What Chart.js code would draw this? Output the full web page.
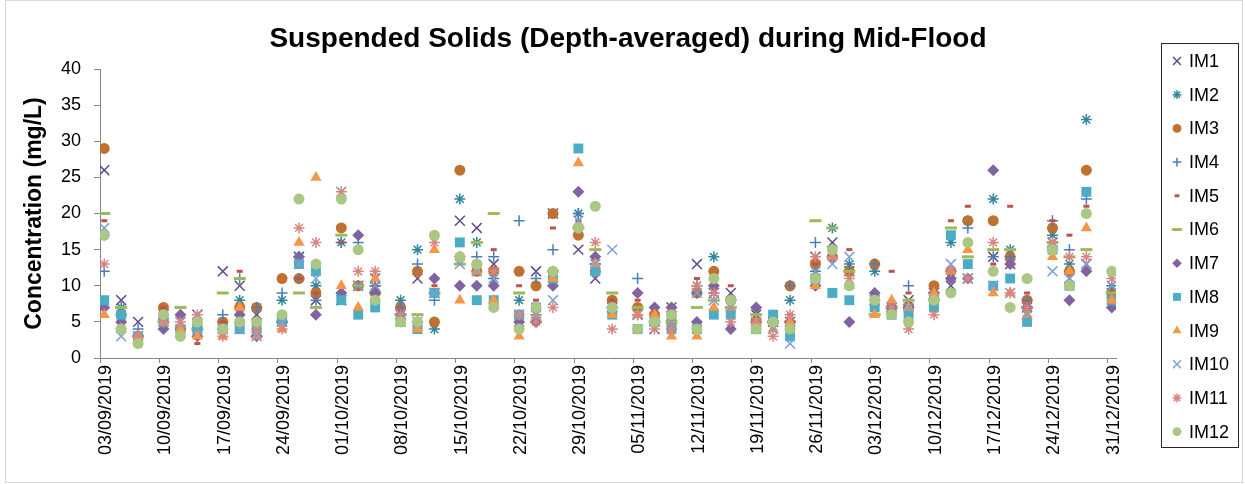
<!DOCTYPE html>
<html lang="en">
<head>
    <meta charset="UTF-8">
    <title>Suspended Solids (Depth-averaged) during Mid-Flood</title>
    <script src="https://cdn.jsdelivr.net/npm/chart.js"></script>
    <style>
        body { margin: 0; background: #fff; }
        #wrap { width: 1245px; height: 484px; }
    </style>
</head>
<body>
    <div id="wrap"><canvas id="myChart" width="1245" height="484"></canvas></div>

    <script>
        // sampling days (mid-flood, taken around midday)
        const sampleDates = [
            '03/09/2019', '05/09/2019', '07/09/2019', '10/09/2019', '12/09/2019', '14/09/2019',
            '17/09/2019', '19/09/2019', '21/09/2019', '24/09/2019', '26/09/2019', '28/09/2019',
            '01/10/2019', '03/10/2019', '05/10/2019', '08/10/2019', '10/10/2019', '12/10/2019',
            '15/10/2019', '17/10/2019', '19/10/2019', '22/10/2019', '24/10/2019', '26/10/2019',
            '29/10/2019', '31/10/2019', '02/11/2019', '05/11/2019', '07/11/2019', '09/11/2019',
            '12/11/2019', '14/11/2019', '16/11/2019', '19/11/2019', '21/11/2019', '23/11/2019',
            '26/11/2019', '28/11/2019', '30/11/2019', '03/12/2019', '05/12/2019', '07/12/2019',
            '10/12/2019', '12/12/2019', '14/12/2019', '17/12/2019', '19/12/2019', '21/12/2019',
            '24/12/2019', '26/12/2019', '28/12/2019', '31/12/2019'
        ];
        const sampleHour = 12;

        const axisStart = '03/09/2019';
        const axisEnd = '01/01/2020';
        const tickDays = 7;

        const chartTitle = 'Suspended Solids (Depth-averaged) during Mid-Flood';
        const yTitle = 'Concentration (mg/L)';
        const seriesNames = ['IM1', 'IM2', 'IM3', 'IM4', 'IM5', 'IM6', 'IM7', 'IM8', 'IM9', 'IM10', 'IM11', 'IM12'];

        // concentration, mg/L
        const im1 = [26, 8, 5, 6, 5, 6, 12, 10, 6, 5, 14, 8, 8, 10, 11, 6, 11, 9, 19, 18, 13, 5, 12, 20, 15, 11, 7, 6, 4, 7, 13, 9, 9, 6, 5, 5, 14, 16, 12, 8, 7, 8, 9, 10, 11, 14, 13, 7, 16, 11, 13, 9];
        const im2 = [17, 7, 3, 6, 4, 4, 5, 8, 7, 8, 14, 10, 16, 10, 10, 8, 15, 4, 22, 16, 11, 8, 6, 12, 20, 13, 7, 6, 5, 5, 10, 14, 8, 5, 5, 8, 12, 18, 13, 12, 7, 7, 8, 16, 19, 22, 15, 7, 17, 13, 33, 10];
        const im3 = [29, 6, 3, 7, 4, 4, 5, 7, 7, 11, 11, 9, 18, 10, 9, 7, 12, 5, 26, 12, 12, 12, 10, 20, 17, 12, 8, 7, 6, 5, 9, 12, 8, 5, 5, 10, 13, 14, 12, 13, 7, 7, 10, 12, 19, 19, 14, 8, 18, 12, 26, 9];
        const im4 = [12, 6, 4, 6, 4, 4, 6, 11, 7, 9, 11, 8, 16, 16, 10, 7, 13, 8, 14, 14, 14, 19, 11, 15, 20, 13, 7, 11, 5, 5, 9, 9, 8, 5, 5, 10, 16, 14, 12, 13, 7, 10, 9, 12, 18, 14, 14, 8, 19, 15, 22, 9];
        const im5 = [19, 5, 3, 7, 4, 2, 5, 12, 4, 5, 11, 9, 16, 10, 10, 6, 5, 10, 13, 13, 15, 10, 8, 18, 19, 12, 8, 8, 5, 5, 11, 9, 10, 5, 5, 6, 13, 14, 15, 8, 12, 9, 8, 19, 21, 13, 21, 9, 19, 17, 21, 9];
        const im6 = [20, 7, 3, 5, 7, 4, 9, 11, 3, 5, 9, 7, 17, 10, 9, 6, 6, 9, 13, 16, 20, 9, 5, 12, 18, 15, 9, 7, 5, 5, 7, 8, 7, 6, 5, 5, 19, 18, 12, 6, 7, 8, 8, 18, 14, 15, 15, 7, 16, 14, 15, 9];
        const im7 = [7, 5, 3, 4, 6, 3, 4, 6, 3, 5, 14, 6, 9, 17, 9, 6, 5, 11, 10, 10, 10, 5, 5, 10, 23, 14, 7, 9, 7, 7, 5, 10, 4, 7, 5, 5, 10, 14, 5, 9, 7, 7, 9, 11, 11, 26, 13, 7, 15, 8, 12, 7];
        const im8 = [8, 6, 3, 5, 4, 4, 4, 4, 4, 5, 13, 12, 8, 6, 7, 5, 4, 9, 16, 8, 8, 6, 7, 11, 29, 12, 6, 4, 5, 4, 4, 6, 6, 4, 6, 3, 11, 9, 8, 7, 6, 6, 7, 17, 13, 10, 11, 5, 15, 10, 23, 8];
        const im9 = [6, 4, 3, 5, 4, 3, 3, 7, 3, 4, 16, 25, 10, 7, 11, 5, 4, 15, 8, 12, 8, 3, 6, 11, 27, 13, 6, 6, 6, 3, 3, 7, 7, 5, 4, 5, 10, 14, 10, 6, 8, 7, 9, 12, 15, 9, 9, 6, 14, 12, 18, 8];
        const im10 = [18, 3, 3, 5, 5, 4, 4, 4, 3, 5, 13, 11, 23, 10, 10, 6, 5, 9, 13, 12, 11, 6, 6, 8, 19, 13, 15, 6, 5, 5, 9, 8, 7, 5, 4, 2, 12, 13, 14, 8, 7, 7, 8, 13, 11, 10, 9, 6, 12, 11, 13, 10];
        const im11 = [13, 4, 3, 5, 5, 6, 3, 5, 4, 4, 18, 16, 23, 12, 12, 6, 5, 16, 14, 13, 12, 6, 5, 7, 18, 16, 4, 6, 4, 4, 10, 9, 5, 5, 3, 6, 14, 14, 11, 8, 7, 4, 6, 12, 11, 16, 9, 7, 16, 14, 14, 11];
        const im12 = [17, 4, 2, 6, 3, 5, 4, 5, 5, 6, 22, 13, 22, 15, 8, 5, 5, 17, 14, 13, 7, 4, 7, 12, 18, 21, 7, 4, 5, 6, 4, 11, 8, 4, 5, 4, 11, 15, 10, 8, 6, 5, 8, 9, 16, 12, 7, 11, 15, 10, 20, 12];
        const seriesValues = [im1, im2, im3, im4, im5, im6, im7, im8, im9, im10, im11, im12];

        const yTicks = [0, 5, 10, 15, 20, 25, 30, 35, 40];

        // marker look for each series, same order as seriesNames
        const markers = [
            { style: 'crossRot', radius: 7, color: '#5F4B8B', width: 1.5 },
            { style: 'star', radius: 5.5, color: '#31859C', width: 1.5 },
            { style: 'circle', radius: 5.5, color: '#C1712F', width: 0 },
            { style: 'cross', radius: 5.5, color: '#4A7EBB', width: 1.5 },
            { style: 'line', radius: 3, color: '#C0504D', width: 3 },
            { style: 'line', radius: 6, color: '#9BBB59', width: 3 },
            { style: 'rectRot', radius: 6, color: '#8064A2', width: 0 },
            { style: 'rect', radius: 7, color: '#4BACC6', width: 0 },
            { style: 'triangle', radius: 6.5, color: '#F79646', width: 0 },
            { style: 'crossRot', radius: 7, color: '#7F9FD3', width: 1.5 },
            { style: 'star', radius: 5.5, color: '#D9857F', width: 1.5 },
            { style: 'circle', radius: 5.5, color: '#ABC784', width: 0 }
        ];

        const DAY = 86400000;
        function parseDate(s) {
            const p = s.split('/');
            return Date.UTC(+p[2], +p[1] - 1, +p[0]);
        }
        function pad(n) { return n < 10 ? '0' + n : '' + n; }
        const t0 = parseDate(axisStart);
        const xMax = (parseDate(axisEnd) - t0) / DAY;
        const xs = sampleDates.map(d => (parseDate(d) - t0) / DAY + sampleHour / 24);

        const datasets = seriesNames.map((name, i) => {
            const m = markers[i];
            const filled = m.width === 0;
            return {
                label: name,
                data: seriesValues[i].map((v, k) => ({ x: xs[k], y: v })),
                pointStyle: m.style,
                pointRadius: m.radius,
                pointHoverRadius: m.radius,
                backgroundColor: m.color,
                borderColor: m.color,
                borderWidth: filled ? 0 : m.width,
                showLine: false,
                order: seriesNames.length - i
            };
        });

        const font = '"Liberation Sans", Arial, sans-serif';
        const axisColor = '#868686';

        // title + framed legend, placed the way excel put them
        const boxLegend = {
            id: 'boxLegend',
            afterDraw(chart) {
                const ctx = chart.ctx;
                ctx.save();
                ctx.fillStyle = '#000';
                ctx.textAlign = 'center';
                ctx.textBaseline = 'middle';
                ctx.font = 'bold 28px ' + font;
                ctx.fillText(chartTitle, 628, 39);

                const bx = 1161, by = 43, bw = 77, bh = 404;
                ctx.strokeStyle = '#262626';
                ctx.lineWidth = 1;
                ctx.strokeRect(bx + 0.5, by + 0.5, bw, bh);
                ctx.font = '18px ' + font;
                ctx.textAlign = 'left';
                seriesNames.forEach((name, i) => {
                    const m = markers[i];
                    const y = 61 + i * 33.7;
                    ctx.fillStyle = m.color;
                    ctx.strokeStyle = m.color;
                    ctx.lineWidth = m.width === 0 ? 1 : m.width;
                    Chart.helpers.drawPoint(ctx, {
                        pointStyle: m.style,
                        radius: m.radius * 0.8,
                        rotation: 0,
                        borderWidth: m.width
                    }, 1177, y);
                    ctx.fillStyle = '#000';
                    ctx.fillText(name, 1189, y + 1);
                });
                ctx.restore();
            }
        };

        const chartFrame = {
            id: 'chartFrame',
            beforeDraw(chart) {
                const ctx = chart.ctx;
                ctx.save();
                ctx.fillStyle = '#fff';
                ctx.fillRect(0, 0, chart.width, chart.height);
                ctx.strokeStyle = '#D9D9D9';
                ctx.lineWidth = 1;
                ctx.strokeRect(5.5, 0.5, 1237, 482);
                ctx.restore();
            }
        };

        new Chart(document.getElementById('myChart').getContext('2d'), {
            type: 'scatter',
            data: { datasets: datasets },
            options: {
                responsive: false,
                animation: false,
                layout: { padding: { left: 10, right: 129, top: 69, bottom: 0 } },
                plugins: {
                    legend: { display: false },
                    tooltip: { enabled: false },
                    title: { display: false }
                },
                scales: {
                    x: {
                        type: 'linear',
                        min: 0,
                        max: xMax,
                        afterFit(scale) { scale.height = 126; },
                        border: { color: axisColor, width: 1 },
                        grid: { drawOnChartArea: false, drawTicks: true, tickLength: 5, color: axisColor },
                        ticks: {
                            stepSize: tickDays,
                            includeBounds: false,
                            autoSkip: false,
                            minRotation: 90,
                            maxRotation: 90,
                            labelOffset: 6,
                            padding: 2,
                            color: '#000',
                            font: { family: font, size: 18 },
                            callback: (v) => {
                                const d = new Date(t0 + v * DAY);
                                return pad(d.getUTCDate()) + '/' + pad(d.getUTCMonth() + 1) + '/' + d.getUTCFullYear();
                            }
                        }
                    },
                    y: {
                        min: yTicks[0],
                        max: yTicks[yTicks.length - 1],
                        afterFit(scale) { scale.width = 90; },
                        afterBuildTicks(scale) { scale.ticks = yTicks.map(v => ({ value: v })); },
                        border: { color: axisColor, width: 1 },
                        grid: { drawOnChartArea: false, drawTicks: true, tickLength: 6, color: axisColor },
                        ticks: {
                            padding: 13,
                            color: '#000',
                            font: { family: font, size: 18 }
                        },
                        title: {
                            display: true,
                            text: yTitle,
                            color: '#000',
                            font: { family: font, size: 23, weight: 'bold', lineHeight: 1.2 },
                            padding: { top: 11, bottom: 0 }
                        }
                    }
                }
            },
            plugins: [chartFrame, boxLegend]
        });
    </script>
</body>
</html>
